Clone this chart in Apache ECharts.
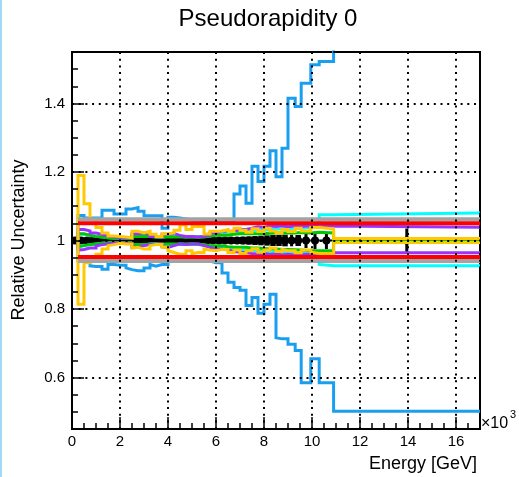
<!DOCTYPE html>
<html>
<head>
<meta charset="utf-8">
<script src="https://cdn.jsdelivr.net/npm/echarts@6/dist/echarts.min.js"></script>
<style>
  html, body { margin: 0; padding: 0; background: #ffffff; }
  #chart { width: 519px; height: 477px; }
</style>
</head>
<body>
<div id="chart"></div>
<script>
// Energy bin edges, in units of 10^3 GeV (first bin 0-0.25 only carries the central point)
const binEdges = [0, 0.25, 0.5, 0.75, 1, 1.25, 1.5, 1.75, 2, 2.25, 2.5, 2.75, 3, 3.25, 3.5, 3.75,
  4, 4.25, 4.5, 4.75, 5, 5.25, 5.5, 5.75, 6, 6.25, 6.5, 6.75, 7, 7.25, 7.5, 7.75, 8, 8.25, 8.5,
  8.75, 9, 9.3, 9.55, 9.95, 10.3, 10.9, 17];

// Tick labels
const xTickLabels = [0, 2, 4, 6, 8, 10, 12, 14, 16];
const yTickLabels = [0.6, 0.8, 1, 1.2, 1.4];

// Uncertainty envelopes, one value per bin starting at 0.25
const blueUpper = [1.073, 1.066, 1.066, 1.066, 1.088, 1.088, 1.077, 1.077, 1.092, 1.096, 1.085, 1.072, 1.072, 1.072, 1.036,
  1.068, 1.066, 1.063, 1.060, 1.060, 1.058, 1.060, 1.058, 1.052, 1.052, 1.052, 1.136, 1.159, 1.109, 1.217, 1.172, 1.217,
  1.262, 1.186, 1.269, 1.415, 1.391, 1.459, 1.513, 1.522, 2.0];
const blueLower = [0.940, 0.940, 0.926, 0.924, 0.916, 0.930, 0.930, 0.928, 0.920, 0.915, 0.912, 0.920, 0.930, 0.925, 0.930,
  0.938, 0.940, 0.940, 0.941, 0.941, 0.940, 0.941, 0.940, 0.935, 0.905, 0.878, 0.863, 0.855, 0.810, 0.834, 0.788, 0.814,
  0.843, 0.716, 0.713, 0.697, 0.679, 0.585, 0.655, 0.585, 0.502];

const yellowUpper = [1.190, 1.107, 1.061, 1.038, 1.022, 1.013, 1.012, 1.010, 1.008, 1.027, 1.022, 1.027, 1.018, 1.012, 1.020,
  1.022, 1.030, 1.046, 1.032, 1.041, 1.041, 1.019, 1.027, 1.027, 1.032, 1.026, 1.036, 1.030, 1.024, 1.034, 1.026, 1.036,
  1.028, 1.022, 1.032, 1.026, 1.036, 1.028, 1.038, 1.034, 1.006];
const yellowLower = [0.814, 0.935, 0.950, 0.960, 0.975, 0.985, 0.988, 0.992, 0.990, 0.978, 0.980, 0.975, 0.985, 0.988, 0.980,
  0.970, 0.965, 0.960, 0.970, 0.962, 0.965, 0.975, 0.972, 0.970, 0.974, 0.965, 0.972, 0.962, 0.970, 0.976, 0.966, 0.972,
  0.978, 0.968, 0.974, 0.970, 0.964, 0.972, 0.966, 0.962, 0.994];

const purpleUpper = [1.032, 1.028, 1.022, 1.018, 1.013, 1.010, 1.008, 1.007, 1.008, 1.020, 1.022, 1.018, 1.012, 1.010, 1.018,
  1.020, 1.015, 1.012, 1.012, 1.010, 1.012, 1.015, 1.022, 1.027, 1.027, 1.027, 1.032, 1.032, 1.036, 1.040, 1.038, 1.042,
  1.041, 1.043, 1.040, 1.043, 1.041, 1.043, 1.040, 1.042, 1.039];
const purpleLower = [0.972, 0.974, 0.978, 0.984, 0.988, 0.990, 0.992, 0.993, 0.992, 0.980, 0.980, 0.985, 0.988, 0.990, 0.982,
  0.980, 0.985, 0.990, 0.988, 0.990, 0.990, 0.985, 0.980, 0.975, 0.975, 0.972, 0.968, 0.966, 0.964, 0.962, 0.960, 0.962,
  0.959, 0.961, 0.958, 0.960, 0.957, 0.959, 0.960, 0.958, 0.964];

const greenUpper = [1.020, 1.015, 1.012, 1.010, 1.008, 1.006, 1.006, 1.006, 1.006, 1.012, 1.012, 1.012, 1.010, 1.010, 1.010,
  1.010, 1.010, 1.010, 1.010, 1.010, 1.010, 1.012, 1.015, 1.015, 1.015, 1.018, 1.020, 1.020, 1.020, 1.020, 1.020, 1.021,
  1.022, 1.022, 1.022, 1.022, 1.023, 1.022, 1.024, 1.022, 1.003];
const greenLower = [0.982, 0.985, 0.988, 0.990, 0.992, 0.994, 0.994, 0.994, 0.994, 0.988, 0.988, 0.988, 0.990, 0.990, 0.990,
  0.990, 0.990, 0.990, 0.990, 0.990, 0.990, 0.988, 0.985, 0.985, 0.985, 0.982, 0.980, 0.980, 0.980, 0.978, 0.978, 0.977,
  0.975, 0.975, 0.974, 0.974, 0.973, 0.972, 0.970, 0.970, 0.997];

const cyanUpper = [1.018, 1.015, 1.012, 1.010, 1.008, 1.007, 1.006, 1.006, 1.007, 1.015, 1.016, 1.014, 1.010, 1.009, 1.013,
  1.016, 1.013, 1.010, 1.012, 1.010, 1.012, 1.014, 1.016, 1.020, 1.022, 1.024, 1.025, 1.027, 1.028, 1.030, 1.030, 1.032,
  1.033, 1.034, 1.035, 1.036, 1.036, 1.037, 1.038, 1.075, 1.080];
const cyanLower = [0.982, 0.985, 0.988, 0.990, 0.992, 0.993, 0.994, 0.994, 0.993, 0.985, 0.984, 0.986, 0.990, 0.991, 0.987,
  0.984, 0.987, 0.990, 0.988, 0.990, 0.988, 0.986, 0.984, 0.980, 0.978, 0.976, 0.975, 0.973, 0.972, 0.970, 0.970, 0.968,
  0.967, 0.966, 0.965, 0.964, 0.964, 0.963, 0.962, 0.930, 0.926];

// Flat envelopes spanning the whole range
const flatEdges = [0.25, 17];
const redUpper = [1.050];
const redLower = [0.952];
const grayUpper = [1.062];
const grayLower = [0.940];

// Central points with their errors (one per bin, including 0-0.25)
const centralValue = [1, 1, 1, 1, 1, 1, 1, 1, 1, 1, 1, 1, 1, 1, 1, 1, 1, 1, 1, 1, 1,
  1, 1, 1, 1, 1, 1, 1, 1, 1, 1, 1, 1, 1, 1, 1, 1, 1, 1, 1, 1, 1];
const centralError = [0.008, 0.008, 0.008, 0.006, 0.005, 0.005, 0.005, 0.005, 0.005, 0.005, 0.006, 0.006, 0.006, 0.006,
  0.006, 0.006, 0.006, 0.006, 0.006, 0.006, 0.006, 0.007, 0.007, 0.007, 0.008, 0.008, 0.009, 0.010, 0.011, 0.012, 0.013,
  0.014, 0.015, 0.016, 0.016, 0.017, 0.017, 0.016, 0.022, 0.025, 0.025, 0.035];

const bandEdges = binEdges.slice(1);

// Histogram outline: horizontal run across each bin, verticals between bins
function stepPoints(edges, vals) {
  const pts = [];
  vals.forEach((v, i) => { pts.push([edges[i], v]); pts.push([edges[i + 1], v]); });
  return pts;
}
// Lower outline traced right-to-left, up the first edge, then upper outline left-to-right
function bandPoints(edges, upper, lower) {
  return stepPoints(edges, lower).reverse().concat(stepPoints(edges, upper));
}

function lineSeries(name, points, color, width) {
  return {
    name, type: 'line', data: points, showSymbol: false, symbol: 'none',
    clip: true, animation: false, silent: true,
    lineStyle: { color, width, join: 'miter', cap: 'butt' }
  };
}

const blue = '#1a9ff0', yellow = '#ffc800', purple = '#9933ff', green = '#00c800',
  cyan = '#00ffff', red = '#ff0000', gray = '#a3a3a3';

const centralData = centralValue.map((v, i) => [binEdges[i], binEdges[i + 1], v, centralError[i]]);

const font = "'Liberation Sans', Arial, Helvetica, sans-serif";
const chart = echarts.init(document.getElementById('chart'), null, { renderer: 'canvas' });

const hiddenLine = { show: true, onZero: false, lineStyle: { color: 'rgba(0,0,0,0)', width: 0 } };

chart.setOption({
  animation: false,
  backgroundColor: '#ffffff',
  grid: { left: 72, right: 39, top: 52, bottom: 48, show: true, borderColor: '#000', borderWidth: 2, backgroundColor: 'transparent' },
  xAxis: [
    {
      type: 'value', min: 0, max: 17, interval: 2, position: 'bottom', z: 5,
      axisLine: { show: true, onZero: false, lineStyle: { color: '#000', width: 2 } },
      axisTick: { show: true, inside: true, length: 12, lineStyle: { color: '#000', width: 1.5 } },
      axisLabel: {
        margin: 5, fontSize: 15, color: '#000', fontFamily: font,
        formatter: v => (xTickLabels.indexOf(v) >= 0 ? String(v) : '')
      },
      splitLine: { show: true, lineStyle: { color: '#000', width: 2, type: [2, 4.7] } }
    },
    {
      type: 'value', min: 0, max: 17, interval: 0.5, position: 'bottom', offset: 0, z: 5,
      axisLine: hiddenLine,
      axisTick: { show: true, inside: true, length: 6, lineStyle: { color: '#000', width: 1.5 } },
      axisLabel: { show: true, formatter: () => '' }, splitLine: { show: false }
    }
  ],
  yAxis: [
    {
      type: 'value', min: 0.45, max: 1.55, minInterval: 0.2, maxInterval: 0.2, splitNumber: 5, position: 'left', z: 5,
      axisLine: { show: true, onZero: false, lineStyle: { color: '#000', width: 2 } },
      axisTick: { show: true, inside: true, length: 12, lineStyle: { color: '#000', width: 1.5 } },
      axisLabel: {
        margin: 7, fontSize: 15, color: '#000', fontFamily: font,
        formatter: v => {
          const hit = yTickLabels.find(t => Math.abs(t - v) < 1e-6);
          return hit === undefined ? '' : String(hit);
        }
      },
      splitLine: { show: true, lineStyle: { color: '#000', width: 2, type: [2, 4.7] } }
    },
    {
      type: 'value', min: 0.45, max: 1.55, interval: 0.05, position: 'left', offset: 0, z: 5,
      axisLine: hiddenLine,
      axisTick: { show: true, inside: true, length: 6, lineStyle: { color: '#000', width: 1.5 } },
      axisLabel: { show: true, formatter: () => '' }, splitLine: { show: false }
    }
  ],
  series: [
    lineSeries('blue', bandPoints(bandEdges, blueUpper, blueLower), blue, 3),
    lineSeries('cyan', bandPoints(bandEdges, cyanUpper, cyanLower), cyan, 3),
    lineSeries('green', bandPoints(bandEdges, greenUpper, greenLower), green, 3),
    lineSeries('purple', bandPoints(bandEdges, purpleUpper, purpleLower), purple, 3),
    {
      name: 'central', type: 'custom', clip: true, animation: false, silent: true,
      data: centralData,
      encode: { x: [0, 1], y: 2 },
      renderItem: (params, api) => {
        const x0 = api.value(0), x1 = api.value(1), y = api.value(2), e = api.value(3);
        const xc = (x0 + x1) / 2;
        const pl = api.coord([x0, y]), pr = api.coord([x1, y]);
        const pc = api.coord([xc, y]);
        const pt = api.coord([xc, y + e]), pb = api.coord([xc, y - e]);
        const barWidth = (pr[0] - pl[0]) < 7 ? 5.5 : 3;
        return {
          type: 'group',
          children: [
            { type: 'line', shape: { x1: pl[0], y1: pl[1], x2: pr[0], y2: pr[1] }, style: { stroke: '#000', lineWidth: 2 } },
            { type: 'line', shape: { x1: pt[0], y1: pt[1], x2: pb[0], y2: pb[1] }, style: { stroke: '#000', lineWidth: barWidth } },
            { type: 'circle', shape: { cx: pc[0], cy: pc[1], r: 4 }, style: { fill: '#000' } }
          ]
        };
      }
    },
    lineSeries('yellow', bandPoints(bandEdges, yellowUpper, yellowLower), yellow, 3),
    lineSeries('grayUp', stepPoints(flatEdges, grayUpper), gray, 4),
    lineSeries('grayLo', stepPoints(flatEdges, grayLower), gray, 4),
    lineSeries('redUp', stepPoints(flatEdges, redUpper), red, 4),
    lineSeries('redLo', stepPoints(flatEdges, redLower), red, 4)
  ],
  graphic: [
    { type: 'rect', left: 0, top: 0, shape: { width: 2, height: 477 }, style: { fill: '#a3d9f2' }, silent: true },
    { type: 'text', x: 268, y: 19, style: { text: 'Pseudorapidity 0', font: '24px ' + font, fill: '#000', align: 'center', verticalAlign: 'middle' } },
    { type: 'text', x: 477, y: 464, style: { text: 'Energy [GeV]', font: '18px ' + font, fill: '#000', align: 'right', verticalAlign: 'middle' } },
    { type: 'text', x: 19, y: 240, rotation: Math.PI / 2, style: { text: 'Relative Uncertainty', font: '18px ' + font, fill: '#000', align: 'center', verticalAlign: 'middle' } },
    { type: 'text', x: 481, y: 424, style: { text: '\u00d710', font: '16px ' + font, fill: '#000', align: 'left', verticalAlign: 'middle' } },
    { type: 'text', x: 510, y: 415, style: { text: '3', font: '11px ' + font, fill: '#000', align: 'left', verticalAlign: 'middle' } }
  ]
});
</script>
</body>
</html>
